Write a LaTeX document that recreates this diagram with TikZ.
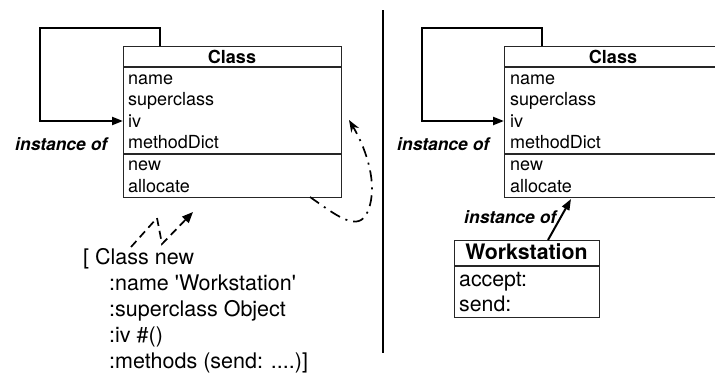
\documentclass[tikz,border=0pt]{standalone}
\usepackage{fontspec}
\setmainfont{TeX Gyre Heros}[Ligatures=TeXOff]
\usetikzlibrary{arrows.meta}
\begin{document}
\begin{tikzpicture}[x=1pt,y=-1pt,
  boxline/.style={draw=black!85, line width=1.2pt},
  row/.style={anchor=base west, inner sep=0, font=\fontsize{18}{20}\selectfont},
  hdr/.style={anchor=base, inner sep=0, font=\fontsize{18}{20}\selectfont\bfseries},
  wrow/.style={anchor=base west, inner sep=0, font=\fontsize{21.3}{24}\selectfont},
  whdr/.style={anchor=base, inner sep=0, font=\fontsize{21.3}{24}\selectfont\bfseries},
  inst/.style={anchor=base west, inner sep=0, font=\fontsize{17.5}{20}\selectfont\bfseries\itshape},
  code/.style={anchor=base west, inner sep=0, font=\fontsize{21.5}{24}\selectfont},
  tip/.style={-{Triangle[length=11pt,width=8pt]}},
  loopline/.style={line width=2.2pt, tip},
  dashline/.style={line width=1.7pt, dash pattern=on 8pt off 5pt, -{Triangle[length=11pt,width=9pt]}},
  dashdotline/.style={line width=1.7pt, dash pattern=on 11pt off 6pt on 2pt off 6pt, -{Stealth[length=12pt,width=9pt]}}
]
\useasboundingbox (0,0) rectangle (715,375);
\clip (0,0) rectangle (715,375);

% ---------- left Class box ----------
\node[boxline, anchor=north west, inner sep=0, minimum width=218pt, minimum height=151pt] (cls1) at (123,46) {};
\draw[boxline] (123,67) -- (341,67);
\draw[boxline] (123,154) -- (341,154);
\node[hdr] (cls1h) at (232,63) {Class};
\node[row] (c1a) at (128,84) {name};
\node[row] (c1b) at (128,105.5) {superclass};
\node[row] (c1c) at (128,127) {iv};
\node[row] (c1d) at (128,148.5) {methodDict};
\node[row] (c1e) at (128,170.5) {new};
\node[row] (c1f) at (128,192) {allocate};

\coordinate (l1s) at (160,46);
\coordinate (l1c) at (40,28);
\coordinate (l1e) at (123,121);
\draw[loopline] (l1s) |- (l1c) |- (l1e);
\node[inst] (inst1) at (15,150.5) {instance of};

% dashed zigzag from the code text to the class
\coordinate (z1) at (131,247);
\coordinate (z2) at (157,218);
\coordinate (z3) at (162,244);
\coordinate (z4) at (193,212);
\draw[dashline] (z1) -- (z2) -- (z3) -- (z4);

% dash-dot loop
\coordinate (dd1) at (310,197);
\coordinate (dd2) at (349,120);
\draw[dashdotline] (dd1) .. controls (340,218) and (362,236) .. (370,205)
   .. controls (377,178) and (364,145) .. (dd2);

% code text
\node[code] (t1) at (83,264) {[ Class new};
\node[code] (t2) at (109,290) {:name 'Workstation'};
\node[code] (t3) at (109,316.5) {:superclass Object};
\node[code] (t4) at (109,342.5) {:iv \#()};
\node[code] (t5) at (109,368) {:methods (send: ....)]};

% ---------- divider ----------
\coordinate (dv1) at (383,10);
\coordinate (dv2) at (383,353);
\draw[line width=2pt] (dv1) -- (dv2);

% ---------- right Class box ----------
\node[boxline, anchor=north west, inner sep=0, minimum width=218pt, minimum height=151pt] (cls2) at (504,46) {};
\draw[boxline] (504,67) -- (722,67);
\draw[boxline] (504,154) -- (722,154);
\node[hdr] (cls2h) at (613,63) {Class};
\node[row] (c2a) at (510,84) {name};
\node[row] (c2b) at (510,105.5) {superclass};
\node[row] (c2c) at (510,127) {iv};
\node[row] (c2d) at (510,148.5) {methodDict};
\node[row] (c2e) at (510,170.5) {new};
\node[row] (c2f) at (510,192) {allocate};

\coordinate (l2s) at (542,46);
\coordinate (l2c) at (422,28);
\coordinate (l2e) at (504,121);
\draw[loopline] (l2s) |- (l2c) |- (l2e);
\node[inst] (inst2) at (397,150) {instance of};

% ---------- Workstation box ----------
\node[boxline, anchor=north west, inner sep=0, minimum width=145pt, minimum height=77pt] (ws) at (454,240) {};
\draw[boxline] (454,266) -- (599,266);
\node[whdr] (wsh) at (526.5,259) {Workstation};
\node[wrow] (wsa) at (459,286) {accept:};
\node[wrow] (wsb) at (459,311) {send:};

\coordinate (wa) at (548,240);
\coordinate (wb) at (571,199);
\draw[line width=2pt, -{Triangle[length=11pt,width=8pt]}] (wa) -- (wb);
\node[inst] (inst3) at (464,223) {instance of};
\end{tikzpicture}
\end{document}
